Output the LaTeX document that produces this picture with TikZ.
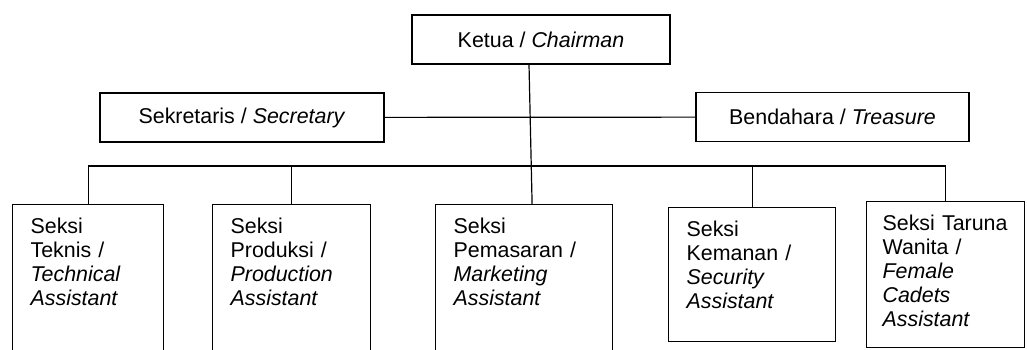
\documentclass[tikz,border=0pt]{standalone}
\usepackage{fontspec}
\setmainfont{Liberation Sans}

\begin{document}
\begin{tikzpicture}[x=0.5pt,y=-0.5pt,line width=0.6pt,font=\fontsize{10.7}{12}\selectfont]
	    \tikzstyle{post}=[draw,minimum height=24.5pt,inner sep=0pt]
	    \tikzstyle{seksi}=[draw,anchor=north west,align=left,inner xsep=9pt,inner ysep=6.5pt,text height=7.7pt]

	    \useasboundingbox (0,0) rectangle (1027,349);

	    \node[post,minimum width=129pt] (ketua) at (541,39.5) {Ketua / \textit{Chairman}};
	    \node[post,minimum width=142pt] (sekretaris) at (242,117.5) {Sekretaris / \textit{Secretary}};
	    \node[post,minimum width=136.5pt] (bendahara) at (832.5,117) {Bendahara / \textit{Treasure}};

	    \node[seksi,text width=57.5pt,text depth=64.3pt] (teknis) at (12,204) {Seksi\\Teknis /\\\textit{Technical}\\\textit{Assistant}};
	    \node[seksi,text width=61pt,text depth=64.3pt] (produksi) at (212,204) {Seksi\\Produksi /\\\textit{Production}\\\textit{Assistant}};
	    \node[seksi,text width=70.5pt,text depth=64.3pt] (pemasaran) at (435,204) {Seksi\\Pemasaran /\\\textit{Marketing}\\\textit{Assistant}};
	    \node[seksi,text width=65.5pt,text depth=46.3pt] (kemanan) at (668,207) {Seksi\\Kemanan /\\\textit{Security}\\\textit{Assistant}};
	    \node[seksi,inner xsep=8pt,text width=63pt,text depth=52.3pt] (taruna) at (866,201) {Seksi Taruna\\Wanita /\\\textit{Female}\\\textit{Cadets}\\\textit{Assistant}};

	    \coordinate (bus) at (0,166);
	    \draw (sekretaris) -- (bendahara);
	    \draw ([xshift=-6pt]ketua.south) -- ([xshift=4pt]pemasaran.north);
	    \draw (teknis.north) -- (teknis.north |- bus) -- (taruna.north |- bus) -- (taruna.north);
	    \foreach \s in {produksi,kemanan}
	        \draw (\s.north) -- (\s.north |- bus);

\end{tikzpicture}
\end{document}
